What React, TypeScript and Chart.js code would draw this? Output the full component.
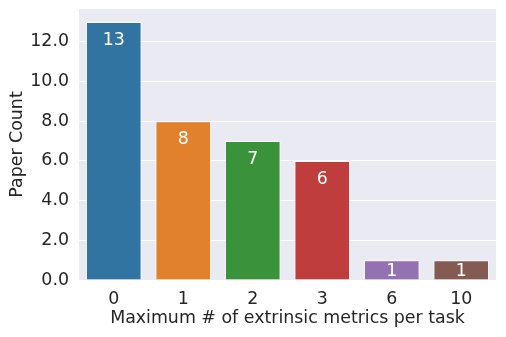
import React, { useEffect, useRef } from "react";
import { Chart, registerables } from "chart.js";

Chart.register(...registerables);

const categories = ["0", "1", "2", "3", "6", "10"];
const paperCounts = [13, 8, 7, 6, 1, 1];
const barColors = ["#3274a1", "#e1812c", "#3a923a", "#c03d3e", "#9372b2", "#845b53"];
const yTickValues = [0, 2, 4, 6, 8, 10, 12];

const FONT = "'DejaVu Sans', sans-serif";
const FS = 17.4;
const TEXT = "#262626";

const bgPlugin = {
  id: "bgPlugin",
  beforeDraw(chart: any) {
    const { ctx, chartArea } = chart;
    ctx.save();
    ctx.fillStyle = "#eaeaf2";
    ctx.fillRect(chartArea.left, chartArea.top, chartArea.right - chartArea.left, chartArea.bottom - chartArea.top);
    ctx.restore();
  },
};

const labelPlugin = {
  id: "labelPlugin",
  afterDatasetsDraw(chart: any) {
    const { ctx } = chart;
    const yScale = chart.scales.y;
    const meta = chart.getDatasetMeta(0);
    const data = chart.data.datasets[0].data as number[];
    ctx.save();
    ctx.fillStyle = "#ffffff";
    ctx.font = `${FS}px ${FONT}`;
    ctx.textAlign = "center";
    ctx.textBaseline = "alphabetic";
    meta.data.forEach((bar: any, i: number) => {
      const v = data[i];
      const cy = yScale.getPixelForValue(Math.max(v - 0.84, v / 2));
      ctx.fillText(String(v), bar.x, cy + FS * 0.3645);
    });
    ctx.restore();
  },
};

export default function App() {
  const ref = useRef<HTMLCanvasElement>(null);
  useEffect(() => {
    if (!ref.current) return;
    const chart = new Chart(ref.current, {
      type: "bar",
      data: {
        labels: categories,
        datasets: [
          {
            data: paperCounts,
            backgroundColor: barColors,
            borderColor: "rgba(255,255,255,0.8)",
            borderWidth: 1,
            categoryPercentage: 1,
            barPercentage: 0.8,
          },
        ],
      },
      options: {
        animation: false,
        responsive: false,
        maintainAspectRatio: false,
        layout: { padding: { top: 9, right: 10, left: 0, bottom: 0 } },
        plugins: { legend: { display: false }, tooltip: { enabled: false } },
        scales: {
          x: {
            grid: { display: false },
            border: { display: false },
            ticks: { color: TEXT, font: { family: FONT, size: FS }, padding: 1 },
            title: {
              display: true,
              text: "Maximum # of extrinsic metrics per task",
              color: TEXT,
              font: { family: FONT, size: FS },
              padding: { top: 0, bottom: 8 },
            },
            afterFit(scale: any) {
              scale.height = 57;
            },
          },
          y: {
            min: 0,
            max: 13.65,
            grid: { color: "#ffffff", lineWidth: 1, drawTicks: false },
            border: { display: false },
            afterBuildTicks(scale: any) {
              scale.ticks = yTickValues.map((v) => ({ value: v }));
            },
            ticks: {
              color: TEXT,
              font: { family: FONT, size: FS },
              padding: 10,
              callback: (v: any) => Number(v).toFixed(1),
            },
            title: {
              display: true,
              text: "Paper Count",
              color: TEXT,
              font: { family: FONT, size: FS },
              padding: { top: 7, bottom: 0 },
            },
            afterFit(scale: any) {
              scale.width = 79;
              scale.paddingTop = 0;
              scale.paddingBottom = 0;
            },
          },
        },
      },
      plugins: [bgPlugin, labelPlugin],
    });
    return () => chart.destroy();
  }, []);
  return (
    <div style={{ position: "fixed", left: 0, top: 0, width: 506, height: 337, background: "#fff" }}>
      <canvas ref={ref} width={506} height={337} style={{ width: 506, height: 337 }} />
    </div>
  );
}
